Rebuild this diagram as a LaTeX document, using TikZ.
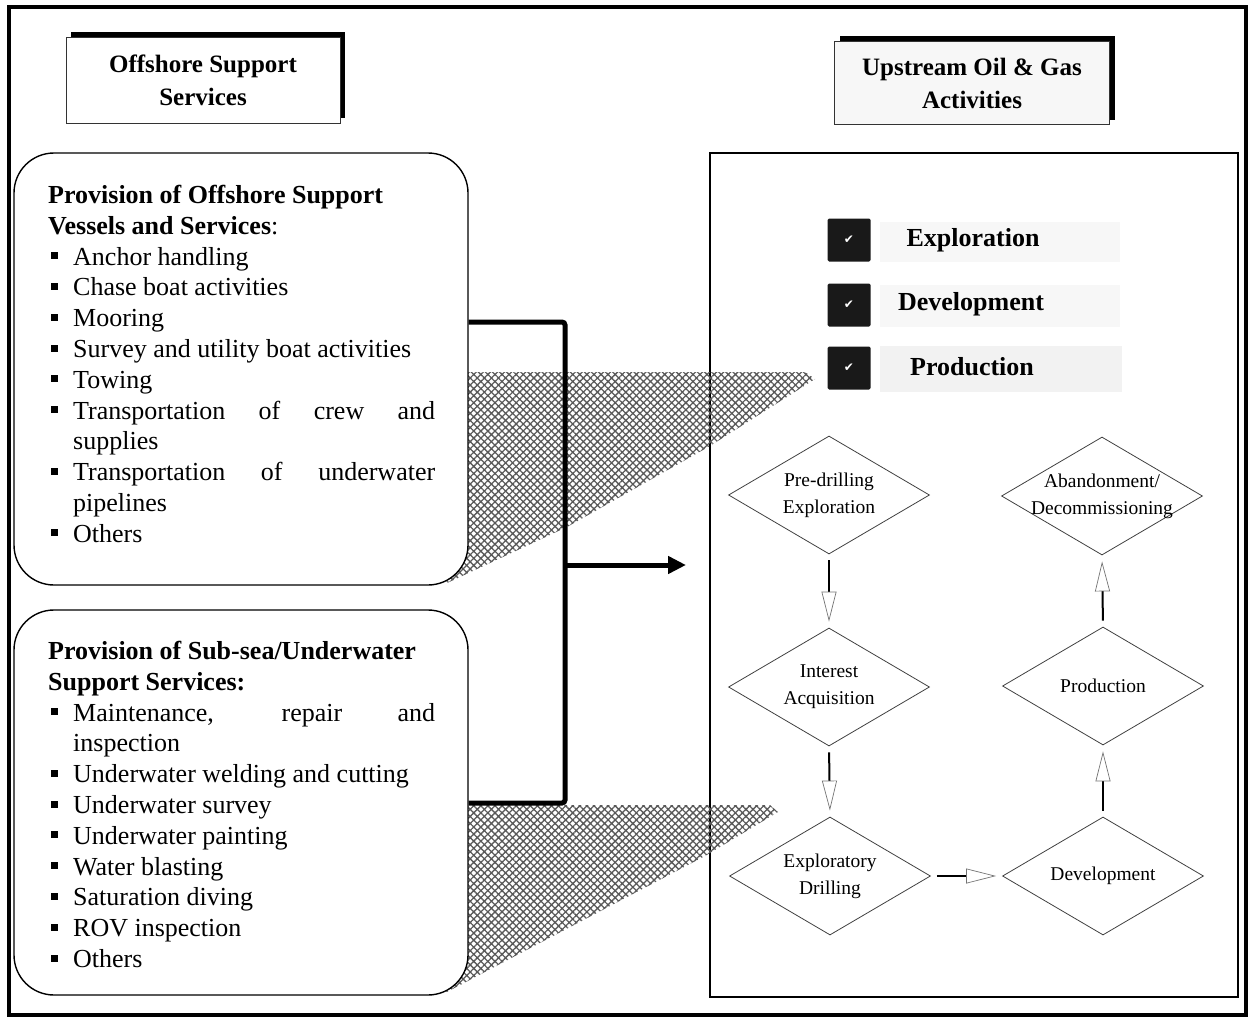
\documentclass[tikz,border=0pt]{standalone}
\usepackage{fontspec}
\setmainfont{Liberation Serif}
\newfontfamily\checkfont{DejaVu Sans}
\usetikzlibrary{shapes.geometric,arrows.meta,patterns.meta,shadows,positioning}

% bullet item with hanging indent
\newcommand\svitem[1]{\par\noindent\hangindent=25pt\hangafter=1\makebox[25pt][l]{\hspace{3pt}\rule[6pt]{7pt}{7pt}}#1}

\begin{document}
\begin{tikzpicture}[x=1pt, y=-1pt,
		frame/.style={line width=3.5pt},
		titlebox/.style={draw=black!80, line width=0.8pt, fill=white, align=center, inner sep=0pt,
			font=\fontsize{25}{33}\selectfont\bfseries,
			drop shadow={shadow xshift=5pt, shadow yshift=5pt, fill=black, opacity=1}},
		groupbox/.style={draw, line width=1.4pt, fill=white, rounded corners=40pt, minimum width=454pt, inner sep=0pt},
		listtext/.style={anchor=north west, inner sep=0pt, text width=387pt, align=justify,
			font=\fontsize{26}{30.8}\selectfont,
			execute at begin node={\hyphenpenalty=10000 \tolerance=10000 \hbadness=10000 }},
		hatch/.style={pattern={Hatch[angle=45, distance=5pt, line width=1.3pt]}, pattern color=black!65},
		bracket/.style={line width=5pt, rounded corners=3pt},
		bigarrow/.style={line width=5pt, -{Triangle[length=18pt, width=17pt]}},
		chk/.style={fill=black!90, rounded corners=1.5pt, minimum size=43pt, inner sep=0pt, text=white,
			font=\checkfont\fontsize{12}{12}\selectfont},
		chklabel/.style={font=\fontsize{26}{26}\selectfont\bfseries},
		stage/.style={diamond, draw=black!75, line width=0.8pt, minimum width=201pt, minimum height=118pt, inner sep=0pt},
		stagelabel/.style={align=center, inner sep=0pt, font=\fontsize{19.5}{27}\selectfont},
		flow/.style={line width=2pt, shorten <=6pt, shorten >=6pt,
			-{Triangle[open, length=30pt, width=15pt, line width=0.7pt, color=black!55]}}
		]
		\useasboundingbox (0,0) rectangle (1250,1025);
		
		% Outer frame
		\draw[frame] (9,7) rectangle (1246,1015);
		
		% Upstream activities box
		\node[draw, line width=1.2pt, minimum width=528pt, minimum height=844pt, inner sep=0pt] (upbox) at (974,575) {};
		
		% Hatched shadows
		\fill[hatch] (468,372) -- (805,372) -- (815,379) -- (710,446) -- (567,527) -- (445,584) -- (445,372) -- cycle;
		\fill[hatch] (468,805) -- (770,805) -- (778,812) -- (705,856) -- (445,993) -- (445,805) -- cycle;
		
		% Service groups
		\node[groupbox, minimum height=432pt] (vessels) at (241,369) {};
		\node[groupbox, minimum height=385pt] (subsea) at (241,802.5) {};
		
		\node[listtext] (vesselslist) at (48,185) {\noindent\textbf{Provision of Offshore Support}\\
			\textbf{Vessels and Services}:
			\svitem{Anchor handling}
			\svitem{Chase boat activities}
			\svitem{Mooring}
			\svitem{Survey and utility boat activities}
			\svitem{Towing}
			\svitem{Transportation of crew and\linebreak supplies}
			\svitem{Transportation of underwater\linebreak pipelines}
			\svitem{Others}};
		
		\node[listtext] (subsealist) at (48,641) {\noindent\textbf{Provision of Sub-sea/Underwater}\\
			\textbf{Support Services:}
			\svitem{Maintenance, repair and\linebreak inspection}
			\svitem{Underwater welding and cutting}
			\svitem{Underwater survey}
			\svitem{Underwater painting}
			\svitem{Water blasting}
			\svitem{Saturation diving}
			\svitem{ROV inspection}
			\svitem{Others}};
		
		% Bracket and main arrow
		\coordinate (jtop) at (565,322);
		\coordinate (jbot) at (565,803);
		\coordinate (jmid) at (565,565);
		\coordinate (jend) at (686,565);
		\draw[bracket] (vessels.east |- jtop) -- (jtop) -- (jbot) -- (subsea.east |- jbot);
		\draw[bigarrow] (jmid) -- (jend);
		
		% Titles
		\node[titlebox, minimum width=274pt, minimum height=86pt] (offtitle) at (203,80) {Offshore Support\\Services};
		\node[titlebox, fill=gray!6, minimum width=275pt, minimum height=83pt] (uptitle) at (972,83) {Upstream Oil \& Gas\\Activities};
		
		% Checked activities
		\fill[gray!6] (880,222) rectangle (1120,262);
		\fill[gray!6] (880,285) rectangle (1120,327);
		\fill[gray!10] (880,346) rectangle (1122,392);
		\node[chk] (chkexp) at (849,240) {✔};
		\node[chk] (chkdev) at (849,305) {✔};
		\node[chk] (chkprod) at (849,368) {✔};
		\node[chklabel] (lblexp) at (973,240) {Exploration};
		\node[chklabel] (lbldev) at (971,304) {Development};
		\node[chklabel] (lblprod) at (972,367) {Production};
		
		% Life cycle stages
		\node[stage] (predrill) at (829,495) {};
		\node[stage] (interest) at (829,687) {};
		\node[stage] (expdrill) at (830,876) {};
		\node[stage] (develop) at (1103,876) {};
		\node[stage] (produce) at (1103,686) {};
		\node[stage] (abandon) at (1102,496) {};
		\node[stagelabel] (predrilltxt) at (predrill) {Pre-drilling\\Exploration};
		\node[stagelabel] (interesttxt) at (interest) {Interest\\Acquisition};
		\node[stagelabel] (expdrilltxt) at (expdrill) {Exploratory\\Drilling};
		\node[stagelabel] (developtxt) at (develop) {Development};
		\node[stagelabel] (producetxt) at (produce) {Production};
		\node[stagelabel] (abandontxt) at (abandon) {Abandonment/\\Decommissioning};
		
		\draw[flow] (predrill.south) -- (interest.north);
		\draw[flow] (interest.south) -- (expdrill.north);
		\draw[flow] (expdrill.east) -- (develop.west);
		\draw[flow] (develop.north) -- (produce.south);
		\draw[flow] (produce.north) -- (abandon.south);
		
	\end{tikzpicture}
\end{document}
